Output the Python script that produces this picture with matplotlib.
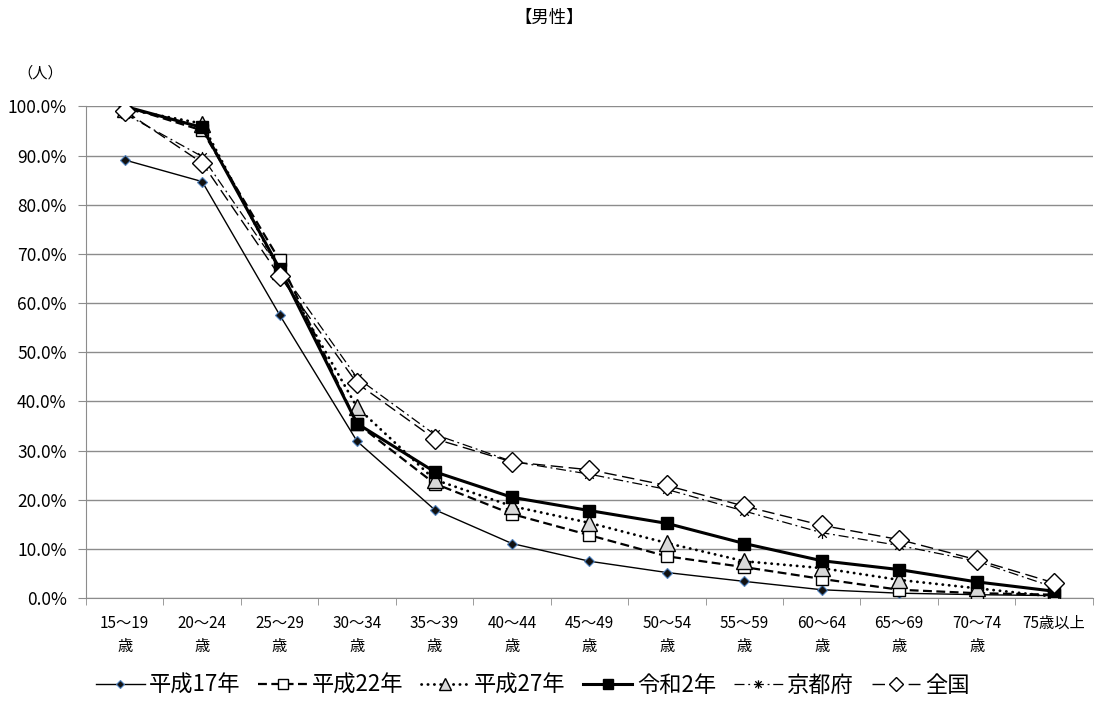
import matplotlib
matplotlib.use("Agg")
import matplotlib.pyplot as plt
from matplotlib.path import Path
from matplotlib.ticker import FuncFormatter, FixedLocator

plt.rcParams['font.family'] = ['Noto Sans CJK JP', 'DejaVu Sans']

# ===============================
# Data
# ===============================
age_labels = ["15〜19\n歳", "20〜24\n歳", "25〜29\n歳", "30〜34\n歳", "35〜39\n歳",
              "40〜44\n歳", "45〜49\n歳", "50〜54\n歳", "55〜59\n歳", "60〜64\n歳",
              "65〜69\n歳", "70〜74\n歳", "75歳以上"]

h17 = [89.1, 84.7, 57.6, 31.9, 18.0, 11.1, 7.5, 5.2, 3.4, 1.7, 1.0, 0.7, 0.5]
h22 = [100.0, 95.1, 68.7, 35.5, 23.3, 17.1, 12.8, 8.5, 6.3, 3.9, 1.7, 1.0, 0.7]
h27 = [99.5, 96.5, 66.5, 38.8, 24.1, 18.7, 15.3, 11.2, 7.5, 6.1, 3.7, 2.0, 0.3]
r02 = [100.0, 95.7, 67.0, 35.5, 25.7, 20.5, 17.8, 15.2, 11.1, 7.6, 5.8, 3.3, 1.4]
kyoto = [98.5, 89.8, 67.0, 44.8, 33.3, 27.8, 25.2, 22.1, 17.7, 13.3, 10.7, 7.5, 2.2]
zenkoku = [99.1, 88.5, 65.5, 43.7, 32.4, 27.7, 26.1, 22.9, 18.7, 14.8, 11.9, 7.8, 3.1]

# asterisk-like star marker (X plus vertical bar)
star = Path([(-1, -1), (1, 1), (-1, 1), (1, -1), (0, -1.3), (0, 1.3)],
            [Path.MOVETO, Path.LINETO, Path.MOVETO, Path.LINETO, Path.MOVETO, Path.LINETO])

# ===============================
# Plot
# ===============================
fig = plt.figure(figsize=(10.98, 7.02), dpi=100)
ax = fig.add_axes([0.0783, 0.148, 0.917, 0.7005])

x = list(range(len(age_labels)))

ax.plot(x, h17, color='black', lw=1.0, ls='-', marker='D', ms=5,
        mfc='#111111', mec='#4f81bd', mew=0.8, label='平成17年', zorder=3)
ax.plot(x, h22, color='black', lw=1.6, ls=(0, (4, 2)), marker='s', ms=9,
        mfc='white', mec='black', mew=1.0, label='平成22年', zorder=4)
ax.plot(x, h27, color='black', lw=2.0, ls=(0, (0.1, 2.2)), dash_capstyle='round',
        marker='^', ms=11, mfc='#d9d9d9', mec='black', mew=1.0, label='平成27年', zorder=5)
ax.plot(x, r02, color='black', lw=2.2, ls='-', marker='s', ms=9,
        mfc='black', mec='black', label='令和2年', zorder=6)
ax.plot(x, kyoto, color='black', lw=0.9, ls=(0, (8, 3, 1.5, 3)), marker=star, ms=8,
        mfc='none', mec='black', mew=0.9, label='京都府', zorder=7)
ax.plot(x, zenkoku, color='black', lw=1.0, ls=(0, (9, 4)), marker='D', ms=10,
        mfc='white', mec='black', mew=1.0, label='全国', zorder=8)

# axes styling
ax.set_xlim(-0.5, len(age_labels) - 0.5)
ax.set_ylim(0, 100)
ax.set_yticks([i * 10 for i in range(11)])
ax.yaxis.set_major_formatter(FuncFormatter(lambda v, p: f"{v:.1f}%"))
ax.grid(axis='y', color='#8c8c8c', lw=1.0)
ax.set_axisbelow(True)

ax.set_xticks(x)
ax.set_xticklabels(age_labels, fontsize=11, linespacing=1.45)
ax.xaxis.set_minor_locator(FixedLocator([i - 0.5 for i in range(len(age_labels) + 1)]))
ax.tick_params(axis='x', which='major', length=0, pad=12)
ax.tick_params(axis='x', which='minor', length=5, color='#8c8c8c', direction='out')
ax.tick_params(axis='y', length=6, color='#8c8c8c', labelsize=12.5, pad=8)

for s in ['top', 'right']:
    ax.spines[s].set_visible(False)
for s in ['left', 'bottom']:
    ax.spines[s].set_color('#8c8c8c')

fig.text(0.5, 0.975, "【男性】", ha='center', va='center', fontsize=12.5)
fig.text(0.016, 0.896, "（人）", ha='left', va='center', fontsize=11)

fig.legend(loc='center', bbox_to_anchor=(0.485, 0.024), ncol=6, frameon=False,
           fontsize=16, handlelength=2.2, columnspacing=0.8, handletextpad=0.2,
           markerscale=0.75)

fig.savefig("out.png", dpi=100)
